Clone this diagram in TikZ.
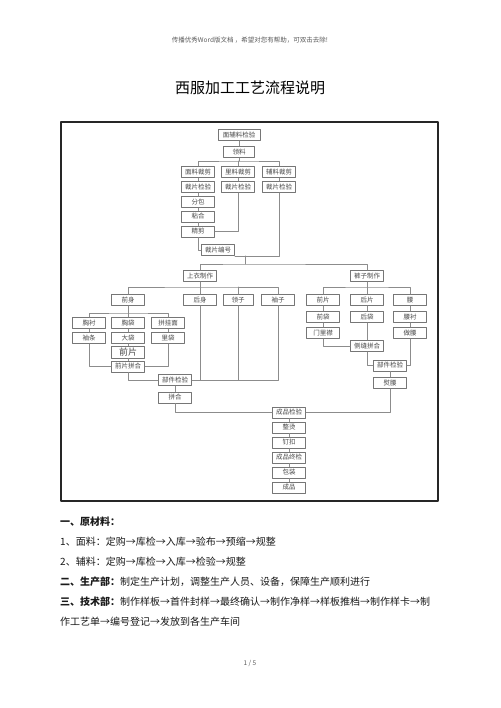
\documentclass[tikz,border=0pt]{standalone}
\usepackage{fontspec}
\newfontfamily\cjk{Noto Sans CJK SC}
\definecolor{suitInk}{HTML}{1A1A1A}
\definecolor{suitBox}{HTML}{767676}
\definecolor{suitLine}{HTML}{8C8C8C}
\definecolor{suitHead}{HTML}{5A5A5A}
\begin{document}
\begin{tikzpicture}[x=1pt,y=-1pt,line cap=round,line join=round]
\path[fill=white] (0,0) rectangle (500,708);
\tikzset{box/.style={draw=suitBox,fill=white,line width=0.8pt,minimum width=33pt,minimum height=11pt,inner sep=0pt,text=suitInk!80,font=\cjk\fontsize{6.5}{7}\selectfont},wire/.style={draw=suitLine,line width=0.6pt},body/.style={anchor=west,inner sep=0pt,text=suitInk,font=\cjk\fontsize{10}{12}\selectfont}}
\node[text=suitHead,font=\cjk\fontsize{6.5}{7}\selectfont] (hdr) at (250,40) {传播优秀Word版文档 ，希望对您有帮助，可双击去除!};
\node[text=black,font=\cjk\fontsize{15}{18}\selectfont] (ttl) at (250,88) {西服加工工艺流程说明};
\draw[draw=black!85,line width=2.2pt,line cap=butt] (61,122) rectangle (438,501);
\node[box,minimum width=42pt] (mfjy) at (239,135) {面辅料检验};
\node[box,minimum width=31pt] (ll) at (239,152) {领料};
\node[box] (mlcj) at (198,172) {面料裁剪}; \node[box] (llcj) at (238,172) {里料裁剪}; \node[box] (flcj) at (279,172) {辅料裁剪};
\node[box] (mljy) at (198,187) {裁片检验}; \node[box] (lljy) at (238,187) {裁片检验}; \node[box] (fljy) at (279,187) {裁片检验};
\node[box] (fb) at (198,202) {分包}; \node[box] (nh) at (198,216.5) {粘合}; \node[box] (jj) at (198,231.5) {精剪};
\node[box] (cpbh) at (218,250) {裁片编号};
\node[box] (syzz) at (200,276) {上衣制作}; \node[box] (kzzz) at (367,276) {裤子制作};
\node[box] (qs) at (128,300) {前身}; \node[box] (hs) at (200,300) {后身}; \node[box,minimum width=30pt] (lz) at (238,300) {领子}; \node[box] (xz) at (278,300) {袖子};
\node[box] (xc) at (89,323) {胸衬}; \node[box] (xd) at (128,323) {胸袋}; \node[box] (pgm) at (168,323) {拼挂面};
\node[box] (xt) at (89,338) {袖条}; \node[box] (dd) at (128,338) {大袋}; \node[box] (ld) at (168,338) {里袋};
\node[box,minimum height=12pt,font=\cjk\fontsize{9}{10}\selectfont] (qp) at (128,352) {前片};
\node[box] (qppf) at (128,366.5) {前片拼合};
\node[box] (bjjy) at (175,380) {部件检验}; \node[box] (ph) at (175,397.5) {拼合};
\node[box] (kqp) at (323,300) {前片}; \node[box] (khp) at (367,300) {后片}; \node[box] (yao) at (410,300) {腰};
\node[box] (qd) at (323,317) {前袋}; \node[box] (hd) at (367,317) {后袋}; \node[box] (yc) at (410,317) {腰衬};
\node[box] (mlj) at (323,333) {门里襟}; \node[box] (zy) at (410,333) {做腰};
\node[box] (cfpf) at (367,346) {侧缝拼合};
\node[box] (kbjjy) at (390,365.5) {部件检验}; \node[box] (yy) at (390,383) {熨腰};
\node[box] (cpjy) at (289,412.5) {成品检验}; \node[box] (zt) at (289,427.5) {整烫}; \node[box] (dk) at (289,442.5) {钉扣};
\node[box] (cpzj) at (289,457.5) {成品终检}; \node[box] (bz) at (289,472.5) {包装}; \node[box] (cp) at (289,487.5) {成品};
\coordinate (llbar) at (239,161); \coordinate (mainhub) at (245,264); \coordinate (sybar) at (200,287); \coordinate (qsbar) at (128,313); \coordinate (kzbar) at (367,287);
\draw[wire] (mfjy) -- (ll); \draw[wire] (ll) -- (llbar);
\draw[wire] (mlcj.north) |- (llbar) -| (flcj.north); \draw[wire] (llcj.north) -- (llcj.north |- llbar);
\foreach \a/\b in {mlcj/mljy,llcj/lljy,flcj/fljy,mljy/fb,fb/nh,nh/jj} \draw[wire] (\a) -- (\b);
\draw[wire] (lljy.south) |- (jj.east); \draw[wire] (jj.south) |- (cpbh.west);
\draw[wire] (fljy.south) |- (cpbh.south east); \draw[wire] (mainhub |- cpbh.south) -- (mainhub);
\draw[wire] (syzz.north) |- (mainhub) -| (kzzz.north);
\draw[wire] (qs.north) |- (sybar) -| (xz.north); \draw[wire] (syzz) -- (hs); \draw[wire] (lz.north) -- (lz.north |- sybar);
\draw[wire] (xc.north) |- (qsbar) -| (pgm.north);
\foreach \a/\b in {qs/xd,xc/xt,xd/dd,pgm/ld,dd/qp,qp/qppf,bjjy/ph} \draw[wire] (\a) -- (\b);
\draw[wire] (xt.south) |- (qppf.west); \draw[wire] (ld.south) |- (qppf.east);
\draw[wire] (qppf.south) |- (bjjy.west); \draw[wire] (xz.south) |- (bjjy.east);
\draw[wire] (hs.south) -- (hs.south |- bjjy.east); \draw[wire] (lz.south) -- (lz.south |- bjjy.east);
\draw[wire] (ph.south) |- (cpjy.west);
\draw[wire] (kqp.north) |- (kzbar) -| (yao.north);
\foreach \a/\b in {kzzz/khp,kqp/qd,qd/mlj,khp/hd,hd/cfpf,yao/yc,yc/zy,kbjjy/yy} \draw[wire] (\a) -- (\b);
\draw[wire] (mlj.south) |- (cfpf.west); \draw[wire] (cfpf.south) |- (kbjjy.west); \draw[wire] (zy.south) |- (kbjjy.east);
\draw[wire] (yy.south) |- (cpjy.east);
\foreach \a/\b in {cpjy/zt,zt/dk,dk/cpzj,cpzj/bz,bz/cp} \draw[wire] (\a) -- (\b);
\node[body] (yl) at (60,522) {\bfseries 一、原材料：};
\node[body] (ml) at (60,542) {1、面料：定购→库检→入库→验布→预缩→规整};
\node[body] (fl) at (60,562) {2、辅料：定购→库检→入库→检验→规整};
\node[body] (sc) at (60,582) {{\bfseries 二、生产部：}制定生产计划，调整生产人员、设备，保障生产顺利进行};
\node[body] (js) at (60,602) {{\bfseries 三、技术部：}制作样板→首件封样→最终确认→制作净样→样板推档→制作样卡→制};
\node[body] (jsb) at (60,622) {作工艺单→编号登记→发放到各生产车间};
\node[text=suitHead,font=\cjk\fontsize{6.5}{7}\selectfont] (pg) at (250,663) {1 / 5};
\end{tikzpicture}
\end{document}
